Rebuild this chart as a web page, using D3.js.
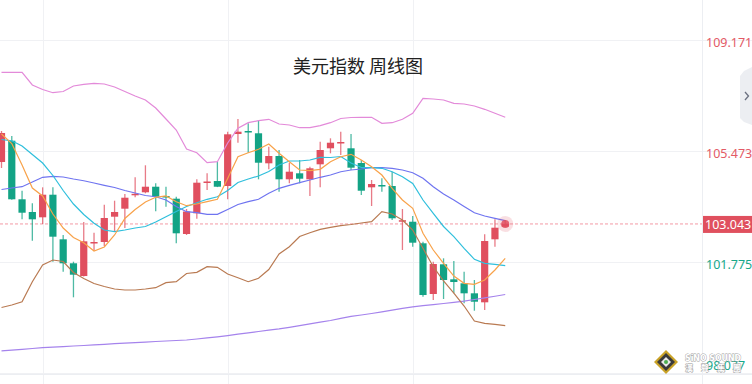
<!DOCTYPE html>
<html><head><meta charset="utf-8">
<script src="https://cdn.jsdelivr.net/npm/d3@7/dist/d3.min.js"></script>
<style>html,body{margin:0;padding:0;background:#fff;overflow:hidden}svg{display:block}</style>
</head><body><svg id="c" width="752" height="384"></svg>
<script>
const title = "美元指数 周线图";
const opens  = [105.106,105.816,103.864,103.441,103.264,104.017,102.531,101.732,101.308,102.408,102.441,103.284,103.551,104.007,104.097,104.283,103.974,103.884,102.708,103.397,104.423,104.473,104.307,106.039,106.139,106.063,105.063,105.306,104.530,104.730,104.530,105.030,105.563,105.746,105.563,105.073,104.263,104.340,104.307,103.134,103.117,102.398,100.709,101.698,101.198,101.065,100.732,100.432,102.531,102.951];
const highs  = [106.139,105.973,104.150,103.731,104.263,104.263,102.674,101.785,103.107,102.751,103.684,103.817,104.040,104.597,104.997,104.397,104.283,103.950,103.541,104.530,104.730,105.116,106.116,106.539,106.396,106.482,105.616,105.506,105.083,105.173,104.950,105.783,105.896,106.116,106.039,105.173,104.507,104.563,104.783,103.541,103.307,102.451,101.785,101.898,101.808,101.452,101.175,102.698,103.197,103.174];
const lows   = [104.907,103.850,103.197,102.484,103.041,101.785,101.452,100.599,101.292,102.151,102.308,102.798,102.908,103.930,104.064,103.464,103.617,102.398,102.674,103.217,104.174,104.270,103.864,105.749,105.416,104.530,104.863,104.117,104.397,104.397,103.974,104.263,105.396,105.340,104.840,104.007,103.640,104.117,103.174,102.175,102.285,100.619,100.509,100.542,100.732,100.399,100.152,100.176,102.285,102.941];
const closes = [106.073,103.864,103.417,103.197,104.017,102.618,101.732,101.352,102.464,102.441,103.241,103.441,103.917,104.047,104.283,103.950,103.930,102.731,103.457,104.417,104.457,104.283,106.029,106.116,106.096,105.083,105.306,104.530,104.783,104.550,104.897,105.506,105.749,105.773,104.917,104.150,104.373,104.297,103.231,103.167,102.418,100.675,101.708,101.175,101.108,100.732,100.452,102.474,102.918,103.043];
const ma5    = [106.039,105.723,105.007,104.240,103.974,103.374,102.908,102.591,102.418,102.141,102.275,102.674,103.224,103.524,103.774,103.930,103.974,103.784,103.651,103.707,103.784,103.864,104.557,105.283,105.416,105.530,105.706,105.396,105.116,104.840,104.817,104.863,105.116,105.283,105.363,105.173,104.950,104.673,104.230,103.840,103.564,102.731,102.175,101.732,101.308,101.065,101.032,101.175,101.508,101.898];
const ma10   = [105.856,105.813,105.640,105.356,105.073,104.657,104.157,103.707,103.357,103.064,102.841,102.784,102.841,102.908,102.958,103.107,103.284,103.457,103.624,103.750,103.864,103.950,104.157,104.423,104.540,104.640,104.790,105.007,105.140,105.140,105.173,105.263,105.256,105.290,105.073,104.923,104.917,104.897,104.783,104.617,104.390,103.840,103.397,102.958,102.618,102.231,101.865,101.732,101.698,101.652];
const bollMid = [104.190,104.240,104.283,104.440,104.597,104.630,104.607,104.540,104.483,104.407,104.330,104.257,104.157,104.074,103.990,103.950,103.840,103.624,103.451,103.417,103.364,103.364,103.524,103.690,103.784,103.864,104.064,104.230,104.330,104.417,104.507,104.597,104.673,104.783,104.840,104.873,104.917,104.917,104.897,104.840,104.750,104.563,104.283,104.040,103.840,103.624,103.417,103.307,103.231,103.151];
const bollUp  = [108.095,108.095,108.095,107.672,107.522,107.415,107.455,107.638,107.695,107.728,107.705,107.605,107.455,107.305,107.172,106.905,106.539,106.173,105.540,105.416,105.083,105.116,105.739,106.229,106.416,106.482,106.529,106.372,106.339,106.249,106.249,106.316,106.416,106.556,106.589,106.596,106.596,106.396,106.416,106.529,106.729,107.229,107.205,107.172,107.062,107.039,106.972,106.862,106.729,106.596];
const bollLow = [100.259,100.342,100.452,101.118,101.675,101.841,101.792,101.425,101.225,101.059,100.959,100.875,100.842,100.842,100.875,100.919,101.085,101.118,101.392,101.432,101.618,101.598,101.375,101.252,101.118,101.232,101.525,102.041,102.285,102.624,102.751,102.864,102.931,102.984,103.024,103.074,103.117,103.451,103.374,103.174,102.841,102.231,101.618,101.142,100.742,100.309,99.809,99.733,99.699,99.653];
const maLong  = [98.813,98.836,98.863,98.893,98.920,98.936,98.956,98.976,98.993,99.013,99.033,99.053,99.070,99.090,99.106,99.126,99.143,99.160,99.176,99.210,99.246,99.283,99.323,99.369,99.416,99.459,99.503,99.546,99.599,99.656,99.713,99.769,99.826,99.899,99.962,100.009,100.059,100.116,100.172,100.229,100.282,100.319,100.356,100.392,100.429,100.472,100.526,100.579,100.635,100.692];
const yTicks = [109.171, 105.473, 101.775, 98.077];
const lastPrice = 103.043;
const vGridIdx = [4, 22, 40];
const logoText = ["SiNO SOUND", "漢 聲 集 團"];

const W = 752, H = 384, plotR = 702;
const svg = d3.select("#c");
const x = d3.scaleLinear().domain([0, 68.14]).range([1.5, plotR]);
const y = d3.scaleLinear().domain([98.077, 109.171]).range([373, 40]);
const upC = "#e04f5f", dnC = "#13a385";

// grid
const g = svg.append("g");
g.selectAll(".hg").data(yTicks).join("line")
  .attr("x1", 0).attr("x2", W).attr("y1", d => Math.round(y(d)) + 0.5).attr("y2", d => Math.round(y(d)) + 0.5)
  .attr("stroke", "#f0f1f4").attr("stroke-width", 1);
g.selectAll(".vg").data(vGridIdx).join("line")
  .attr("x1", d => Math.round(x(d)) + 0.5).attr("x2", d => Math.round(x(d)) + 0.5).attr("y1", 0).attr("y2", H)
  .attr("stroke", "#f0f1f4");
g.append("line").attr("x1", plotR + 0.5).attr("x2", plotR + 0.5).attr("y1", 0).attr("y2", H).attr("stroke", "#eceef2");
g.append("line").attr("x1", 0).attr("x2", W).attr("y1", 374.5).attr("y2", 374.5).attr("stroke", "#eceef2");

// title
svg.append("text").attr("x", 358).attr("y", 73).attr("text-anchor", "middle")
  .attr("font-family", "'Noto Sans CJK SC', sans-serif").attr("font-size", 18).attr("fill", "#222")
  .text(title);

// last price dashed line
svg.append("line").attr("x1", 0).attr("x2", plotR).attr("y1", y(lastPrice)).attr("y2", y(lastPrice))
  .attr("stroke", "#f39aa4").attr("stroke-dasharray", "3,2").attr("stroke-width", 1);

// lines
const lineGen = d3.line().x((d, i) => x(i)).y(d => y(d));
const series = [
  [maLong, "#a583ec"], [bollUp, "#e38ad9"], [bollLow, "#b97a52"], [bollMid, "#6f74f0"], [ma10, "#2fbfdc"], [ma5, "#f8a24a"]
];
const cg = svg.append("g");
const idx = d3.range(closes.length);
cg.selectAll(".wick").data(idx).join("line")
  .attr("x1", i => x(i)).attr("x2", i => x(i)).attr("y1", i => y(highs[i])).attr("y2", i => y(lows[i]))
  .attr("stroke", i => closes[i] >= opens[i] ? upC : dnC).attr("stroke-width", 1.3).attr("stroke-opacity", 0.75);
cg.selectAll(".body").data(idx).join("rect")
  .attr("x", i => x(i) - 3.6).attr("width", 7.2)
  .attr("y", i => y(Math.max(opens[i], closes[i])))
  .attr("height", i => Math.max(1.5, Math.abs(y(opens[i]) - y(closes[i]))))
  .attr("fill", i => closes[i] >= opens[i] ? upC : dnC);

svg.append("g").selectAll("path").data(series).join("path")
  .attr("d", d => lineGen(d[0])).attr("fill", "none").attr("stroke", d => d[1]).attr("stroke-width", 1.2);

// glow dot
const li = closes.length - 1;
svg.append("circle").attr("cx", x(li)).attr("cy", y(lastPrice)).attr("r", 8).attr("fill", upC).attr("opacity", 0.18);
svg.append("circle").attr("cx", x(li)).attr("cy", y(lastPrice)).attr("r", 4).attr("fill", upC).attr("opacity", 0.85);

// axis labels
svg.selectAll(".yl").data(yTicks).join("text")
  .attr("x", 706).attr("y", d => Math.min(y(d) + 6.5, 369.5))
  .attr("font-family", "'Noto Sans', sans-serif").attr("font-size", 12.5)
  .attr("fill", d => d > lastPrice ? "#e35a66" : "#18a88a").text(d => d.toFixed(3));
svg.append("rect").attr("x", 703).attr("y", y(lastPrice) - 8).attr("width", 49).attr("height", 17).attr("fill", "#e0505e");
svg.append("text").attr("x", 705).attr("y", y(lastPrice) + 5)
  .attr("font-family", "'Noto Sans', sans-serif").attr("font-size", 12.5).attr("fill", "#fff").text(lastPrice.toFixed(3));

// side tab
svg.append("path").attr("d", "M752,67 L744,71 L740,76 L740,118 L744,122 L752,125 Z").attr("fill", "#eceef2");
svg.append("path").attr("d", "M745,92 L748.5,96 L745,100").attr("fill", "none").attr("stroke", "#6b7080").attr("stroke-width", 1.3);

// logo
const lg = svg.append("g");
lg.append("path").attr("d", "M666,350 L678,362 L666,374 L654,362 Z").attr("fill", "#c9a227");
lg.append("path").attr("d", "M666,353 L675,362 L666,371 L657,362 Z").attr("fill", "#3a3a3a");
lg.append("path").attr("d", "M666,357 L671,362 L666,367 L661,362 Z").attr("fill", "#e9e9e9");
lg.append("circle").attr("cx", 666).attr("cy", 362).attr("r", 2).attr("fill", "#4caf50");
lg.append("text").attr("x", 685).attr("y", 361).attr("font-family", "'DejaVu Sans', sans-serif").attr("font-weight", "bold")
  .attr("font-size", 8.5).attr("textLength", 56).attr("lengthAdjust", "spacingAndGlyphs")
  .attr("fill", "#fff").attr("stroke", "#a0a0a0").attr("stroke-width", 0.9).attr("paint-order", "stroke")
  .text(logoText[0]);
lg.append("text").attr("x", 685).attr("y", 371).attr("font-family", "'Noto Sans CJK TC', sans-serif").attr("font-weight", "bold")
  .attr("font-size", 8).attr("textLength", 56).attr("lengthAdjust", "spacing")
  .attr("fill", "#fff").attr("stroke", "#a0a0a0").attr("stroke-width", 0.9).attr("paint-order", "stroke")
  .text(logoText[1]);
</script></body></html>
